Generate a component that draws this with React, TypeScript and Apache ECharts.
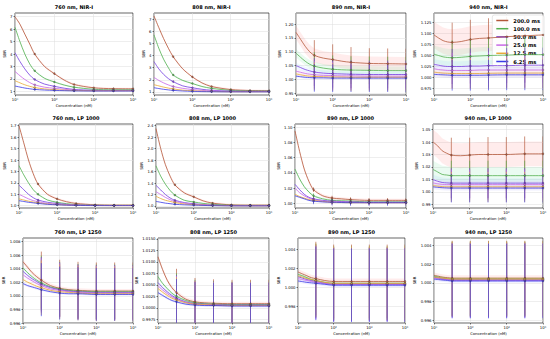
import React, { useEffect, useRef } from 'react';
import * as echarts from 'echarts';

const exposures = ['200.0 ms', '100.0 ms', '50.0 ms', '25.0 ms', '12.5 ms', '6.25 ms'];
const titles = [
  '760 nm, NIR-I', '808 nm, NIR-I', '890 nm, NIR-I', '940 nm, NIR-I',
  '760 nm, LP 1000', '808 nm, LP 1000', '890 nm, LP 1000', '940 nm, LP 1000',
  '760 nm, LP 1250', '808 nm, LP 1250', '890 nm, LP 1250', '940 nm, LP 1250',
];
// concentration (nM) where the fitted curves are sampled
const curveX = [1, 1.78, 3.16, 5.62, 10, 31.6, 100, 316, 1000, 10000, 100000, 1000000];
// concentration (nM) of measured points
const pointX = [10, 100, 1000, 10000, 100000, 1000000];
const pointIdx = [4, 6, 8, 9, 10, 11];
const xTicks = [1, 100, 10000, 1000000];

// fitted curves, one list per exposure (200, 100, 50, 25, 12.5, 6.25 ms)
const p1 = [
  [7.0, 6.4, 5.6, 4.8, 4.0, 3.0, 2.42, 1.9, 1.55, 1.28, 1.21, 1.2],
  [6.15, 5.0, 4.0, 3.2, 2.65, 2.05, 1.75, 1.5, 1.33, 1.16, 1.12, 1.12],
  [4.1, 3.4, 2.8, 2.3, 1.95, 1.58, 1.4, 1.25, 1.15, 1.08, 1.07, 1.07],
  [2.6, 2.25, 1.95, 1.7, 1.52, 1.33, 1.24, 1.16, 1.1, 1.05, 1.05, 1.05],
  [1.85, 1.68, 1.52, 1.4, 1.3, 1.19, 1.13, 1.09, 1.06, 1.04, 1.04, 1.04],
  [1.42, 1.34, 1.26, 1.2, 1.15, 1.1, 1.07, 1.05, 1.03, 1.02, 1.02, 1.02],
];
const p2 = [
  [7.25, 6.3, 5.4, 4.6, 3.9, 2.9, 2.24, 1.75, 1.45, 1.2, 1.12, 1.1],
  [5.7, 4.6, 3.7, 3.0, 2.4, 1.95, 1.7, 1.45, 1.3, 1.13, 1.08, 1.07],
  [3.5, 2.9, 2.45, 2.1, 1.85, 1.5, 1.35, 1.22, 1.14, 1.07, 1.05, 1.05],
  [2.2, 1.95, 1.75, 1.58, 1.45, 1.3, 1.2, 1.13, 1.08, 1.04, 1.03, 1.03],
  [1.6, 1.5, 1.4, 1.32, 1.25, 1.15, 1.1, 1.06, 1.04, 1.02, 1.02, 1.02],
  [1.35, 1.28, 1.22, 1.17, 1.13, 1.08, 1.05, 1.03, 1.02, 1.01, 1.01, 1.01],
];
const p3 = [
  [1.17, 1.145, 1.12, 1.1, 1.087, 1.077, 1.072, 1.066, 1.062, 1.058, 1.057, 1.056],
  [1.095, 1.08, 1.066, 1.055, 1.048, 1.041, 1.037, 1.035, 1.034, 1.033, 1.032, 1.032],
  [1.05, 1.043, 1.036, 1.031, 1.027, 1.023, 1.021, 1.02, 1.019, 1.018, 1.018, 1.018],
  [1.03, 1.026, 1.022, 1.019, 1.017, 1.015, 1.014, 1.013, 1.013, 1.012, 1.012, 1.012],
  [1.02, 1.017, 1.014, 1.012, 1.011, 1.01, 1.009, 1.009, 1.008, 1.008, 1.008, 1.008],
  [1.012, 1.01, 1.008, 1.007, 1.006, 1.006, 1.005, 1.005, 1.005, 1.005, 1.005, 1.005],
];
const p4 = [
  [1.097, 1.09, 1.084, 1.081, 1.08, 1.082, 1.0865, 1.089, 1.09, 1.093, 1.095, 1.097],
  [1.053, 1.05, 1.047, 1.0455, 1.045, 1.046, 1.048, 1.049, 1.05, 1.051, 1.052, 1.052],
  [1.03, 1.028, 1.026, 1.025, 1.025, 1.025, 1.026, 1.026, 1.027, 1.027, 1.028, 1.028],
  [1.02, 1.018, 1.017, 1.016, 1.016, 1.016, 1.016, 1.017, 1.017, 1.017, 1.017, 1.017],
  [1.012, 1.011, 1.01, 1.0095, 1.009, 1.009, 1.009, 1.009, 1.0095, 1.01, 1.01, 1.01],
  [1.007, 1.0065, 1.006, 1.0055, 1.005, 1.005, 1.005, 1.005, 1.0055, 1.006, 1.006, 1.006],
];
const p5 = [
  [1.7, 1.55, 1.4, 1.28, 1.19, 1.1, 1.06, 1.035, 1.02, 1.008, 1.005, 1.005],
  [1.35, 1.27, 1.2, 1.14, 1.1, 1.05, 1.03, 1.018, 1.01, 1.004, 1.003, 1.003],
  [1.18, 1.14, 1.1, 1.07, 1.05, 1.03, 1.02, 1.012, 1.007, 1.003, 1.002, 1.002],
  [1.1, 1.08, 1.06, 1.045, 1.035, 1.02, 1.013, 1.008, 1.005, 1.002, 1.002, 1.002],
  [1.06, 1.05, 1.04, 1.032, 1.025, 1.015, 1.01, 1.006, 1.004, 1.002, 1.001, 1.001],
  [1.044, 1.037, 1.03, 1.025, 1.02, 1.012, 1.008, 1.005, 1.003, 1.001, 1.001, 1.001],
];
const p6 = [
  [2.35, 2.0, 1.72, 1.52, 1.37, 1.23, 1.16, 1.09, 1.05, 1.02, 1.015, 1.015],
  [1.7, 1.52, 1.38, 1.27, 1.19, 1.1, 1.07, 1.045, 1.03, 1.012, 1.01, 1.01],
  [1.36, 1.28, 1.2, 1.14, 1.1, 1.06, 1.04, 1.025, 1.015, 1.008, 1.007, 1.007],
  [1.25, 1.2, 1.15, 1.11, 1.08, 1.05, 1.03, 1.02, 1.012, 1.006, 1.005, 1.005],
  [1.17, 1.13, 1.1, 1.08, 1.06, 1.035, 1.022, 1.015, 1.01, 1.005, 1.004, 1.004],
  [1.08, 1.065, 1.05, 1.04, 1.03, 1.02, 1.015, 1.01, 1.006, 1.003, 1.003, 1.003],
];
const p7 = [
  [1.095, 1.068, 1.045, 1.029, 1.018, 1.01, 1.007, 1.006, 1.005, 1.004, 1.004, 1.004],
  [1.045, 1.032, 1.022, 1.015, 1.01, 1.006, 1.004, 1.0035, 1.003, 1.002, 1.002, 1.002],
  [1.025, 1.018, 1.012, 1.008, 1.006, 1.004, 1.003, 1.0025, 1.002, 1.0015, 1.0015, 1.0015],
  [1.02, 1.014, 1.01, 1.007, 1.005, 1.003, 1.002, 1.0018, 1.0015, 1.001, 1.001, 1.001],
  [1.012, 1.009, 1.007, 1.005, 1.004, 1.0025, 1.0015, 1.0012, 1.001, 1.001, 1.001, 1.001],
  [1.01, 1.008, 1.006, 1.004, 1.003, 1.002, 1.0015, 1.0012, 1.001, 1.001, 1.001, 1.001],
];
const p8 = [
  [1.04, 1.037, 1.033, 1.031, 1.0295, 1.029, 1.0295, 1.03, 1.03, 1.03, 1.0305, 1.0305],
  [1.018, 1.016, 1.014, 1.0135, 1.013, 1.013, 1.013, 1.013, 1.013, 1.013, 1.013, 1.013],
  [1.0098, 1.0085, 1.0075, 1.0072, 1.007, 1.007, 1.007, 1.007, 1.007, 1.007, 1.007, 1.007],
  [1.0072, 1.0065, 1.006, 1.0058, 1.0058, 1.0058, 1.0058, 1.0058, 1.0058, 1.0058, 1.0058, 1.0058],
  [1.005, 1.0046, 1.0042, 1.004, 1.004, 1.004, 1.004, 1.004, 1.004, 1.004, 1.004, 1.004],
  [1.004, 1.0036, 1.0033, 1.0031, 1.003, 1.003, 1.003, 1.003, 1.003, 1.003, 1.003, 1.003],
];
const p9 = [
  [1.005, 1.0042, 1.0034, 1.0028, 1.0023, 1.0015, 1.0011, 1.0009, 1.0008, 1.0007, 1.0007, 1.0007],
  [1.0041, 1.0034, 1.0028, 1.0023, 1.0019, 1.0013, 1.001, 1.0008, 1.0007, 1.0006, 1.0006, 1.0006],
  [1.0036, 1.003, 1.0025, 1.0021, 1.0017, 1.0012, 1.0009, 1.0007, 1.0006, 1.0005, 1.0005, 1.0005],
  [1.0031, 1.0026, 1.0022, 1.0018, 1.0015, 1.001, 1.0008, 1.0006, 1.0005, 1.0004, 1.0004, 1.0004],
  [1.0024, 1.002, 1.0017, 1.0014, 1.0012, 1.0008, 1.0006, 1.0005, 1.0004, 1.0003, 1.0003, 1.0003],
  [1.0018, 1.0015, 1.0013, 1.0011, 1.0009, 1.0006, 1.0004, 1.0003, 1.0003, 1.0002, 1.0002, 1.0002],
];
const p10 = [
  [1.0111, 1.0083, 1.006, 1.0044, 1.0033, 1.0019, 1.0013, 1.0011, 1.001, 1.0009, 1.0009, 1.0009],
  [1.0068, 1.0053, 1.0042, 1.0032, 1.0025, 1.0016, 1.0011, 1.0009, 1.0008, 1.0007, 1.0007, 1.0007],
  [1.0055, 1.0044, 1.0035, 1.0027, 1.0021, 1.0013, 1.0009, 1.0008, 1.0007, 1.0006, 1.0006, 1.0006],
  [1.0048, 1.0039, 1.0031, 1.0024, 1.0019, 1.0012, 1.0008, 1.0007, 1.0006, 1.0005, 1.0005, 1.0005],
  [1.0042, 1.0034, 1.0027, 1.0021, 1.0017, 1.0011, 1.0008, 1.0007, 1.0006, 1.0005, 1.0005, 1.0005],
  [1.0033, 1.0027, 1.0021, 1.0016, 1.0013, 1.0008, 1.0006, 1.0005, 1.0005, 1.0004, 1.0004, 1.0004],
];
const p11 = [
  [1.0016, 1.0014, 1.0012, 1.001, 1.0009, 1.0007, 1.0006, 1.0006, 1.0006, 1.0006, 1.0006, 1.0006],
  [1.00135, 1.0012, 1.001, 1.0008, 1.0007, 1.0005, 1.0004, 1.0004, 1.0004, 1.0004, 1.0004, 1.0004],
  [1.0011, 1.00095, 1.0008, 1.0007, 1.0006, 1.0004, 1.0003, 1.0003, 1.0003, 1.0003, 1.0003, 1.0003],
  [1.0009, 1.0008, 1.0007, 1.0006, 1.0005, 1.0004, 1.0003, 1.0003, 1.0003, 1.0003, 1.0003, 1.0003],
  [1.0012, 1.00105, 1.0009, 1.0008, 1.0007, 1.0005, 1.0004, 1.0004, 1.0004, 1.0004, 1.0004, 1.0004],
  [1.00065, 1.00058, 1.0005, 1.00045, 1.0004, 1.0003, 1.0002, 1.0002, 1.0002, 1.0002, 1.0002, 1.0002],
];
const p12 = [
  [1.0008, 1.0007, 1.0006, 1.00055, 1.0005, 1.0005, 1.0005, 1.0005, 1.0005, 1.0005, 1.0005, 1.0005],
  [1.0007, 1.0006, 1.0005, 1.00045, 1.0004, 1.0004, 1.0004, 1.0004, 1.0004, 1.0004, 1.0004, 1.0004],
  [1.0006, 1.0005, 1.0004, 1.00035, 1.0003, 1.0003, 1.0003, 1.0003, 1.0003, 1.0003, 1.0003, 1.0003],
  [1.0005, 1.00045, 1.0004, 1.00035, 1.0003, 1.0003, 1.0003, 1.0003, 1.0003, 1.0003, 1.0003, 1.0003],
  [1.0006, 1.00055, 1.0005, 1.00045, 1.0004, 1.0004, 1.0004, 1.0004, 1.0004, 1.0004, 1.0004, 1.0004],
  [1.0004, 1.00035, 1.0003, 1.00025, 1.0002, 1.0002, 1.0002, 1.0002, 1.0002, 1.0002, 1.0002, 1.0002],
];
const curves = [p1, p2, p3, p4, p5, p6, p7, p8, p9, p10, p11, p12];

// error-bar half widths per exposure
const e1 = [0.03, 0.03, 0.03, 0.03, 0.03, 0.03];
const e2 = [0.03, 0.03, 0.03, 0.03, 0.03, 0.03];
const e3 = [0.055, 0.05, 0.05, 0.05, 0.05, 0.05];
const e4 = [0.045, 0.04, 0.04, 0.04, 0.035, 0.035];
const e5 = [0.004, 0.003, 0.003, 0.003, 0.003, 0.003];
const e6 = [0.01, 0.008, 0.008, 0.008, 0.008, 0.008];
const e7 = [0.003, 0.003, 0.003, 0.003, 0.003, 0.004];
const e8 = [0.014, 0.012, 0.012, 0.012, 0.012, 0.0115];
const e9 = [0.0042, 0.004, 0.004, 0.004, 0.004, 0.0039];
const e10 = [0.0052, 0.005, 0.005, 0.005, 0.005, 0.005];
const e11 = [0.0039, 0.0039, 0.0039, 0.0039, 0.0039, 0.0039];
const e12 = [0.004, 0.004, 0.004, 0.004, 0.004, 0.004];
const errs = [e1, e2, e3, e4, e5, e6, e7, e8, e9, e10, e11, e12];

// half widths of the shaded fit bands per exposure
const b1 = [0.08, 0.06, 0.04, 0.03, 0.02, 0.01];
const b2 = [0.08, 0.06, 0.04, 0.03, 0.02, 0.01];
const b3 = [0.025, 0.015, 0.01, 0.008, 0.006, 0.005];
const b4 = [0.03, 0.02, 0.012, 0.01, 0.008, 0.006];
const b5 = [0.01, 0.006, 0.004, 0.003, 0.002, 0.002];
const b6 = [0.02, 0.012, 0.008, 0.006, 0.004, 0.003];
const b7 = [0.002, 0.0015, 0.001, 0.001, 0.001, 0.001];
const b8 = [0.01, 0.007, 0.004, 0.003, 0.002, 0.002];
const b9 = [0.0003, 0.0002, 0.0002, 0.0002, 0.0002, 0.0002];
const b10 = [0.0004, 0.0003, 0.0003, 0.0003, 0.0003, 0.0003];
const b11 = [0.0003, 0.0002, 0.0002, 0.0002, 0.0002, 0.0002];
const b12 = [0.0003, 0.0002, 0.0002, 0.0002, 0.0002, 0.0002];
const bands = [b1, b2, b3, b4, b5, b6, b7, b8, b9, b10, b11, b12];

// y tick labels
const yTicks = [
  [1, 2, 3, 4, 5, 6, 7],
  [1, 2, 3, 4, 5, 6, 7],
  [0.95, 1.0, 1.05, 1.1, 1.15, 1.2],
  [0.975, 1.0, 1.025, 1.05, 1.075, 1.1, 1.125],
  [1.0, 1.1, 1.2, 1.3, 1.4, 1.5, 1.6, 1.7],
  [1.0, 1.2, 1.4, 1.6, 1.8, 2.0, 2.2, 2.4],
  [1.0, 1.02, 1.04, 1.06, 1.08, 1.1],
  [0.99, 1.0, 1.01, 1.02, 1.03, 1.04, 1.05],
  [0.996, 0.998, 1.0, 1.002, 1.004, 1.006, 1.008],
  [0.9975, 1.0, 1.0025, 1.005, 1.0075, 1.01, 1.0125, 1.015],
  [0.998, 1.0, 1.002, 1.004],
  [0.996, 0.998, 1.0, 1.002, 1.004],
];
const yDecimals = [0, 0, 2, 3, 1, 1, 2, 2, 3, 4, 3, 3];
const yRange = [
  [0.7, 7.3], [0.75, 7.5], [0.944, 1.24], [0.96, 1.147],
  [0.98, 1.715], [0.965, 2.43], [0.994, 1.104], [0.987, 1.0545],
  [0.996, 1.0085], [0.9967, 1.0152], [0.9962, 1.0052], [0.9957, 1.0048],
];

// layout: left, top, width, height of each plot box
const boxes = [
  [15, 13, 118, 82], [154, 13, 115, 82], [296, 13, 110, 82], [434, 13, 109, 82],
  [19, 124, 114, 84], [156, 124, 113, 84], [295, 124, 111, 84], [433, 124, 110, 84],
  [23, 238, 110, 85], [158, 238, 111, 85], [298, 238, 107, 85], [434, 238, 109, 85],
];
const colors = ['#b4583a', '#55b050', '#7a3fe0', '#c86ae6', '#e8a838', '#3b3be6'];
const bandColors = ['#ff7070', '#60e090', '#80c0ff', '#e090ff', '#ffd080', '#8080ff'];
const FONT = 'DejaVu Sans';
const sup: Record<string, string> = { '0': '⁰', '1': '¹', '2': '²', '3': '³', '4': '⁴', '5': '⁵', '6': '⁶' };

export default function App() {
  const ref = useRef<HTMLDivElement>(null);
  useEffect(() => {
    if (!ref.current) return;
    const chart = echarts.init(ref.current, null, { renderer: 'svg' });
    const grid: any[] = [];
    const xAxis: any[] = [];
    const yAxis: any[] = [];
    const series: any[] = [];
    const title: any[] = [];
    boxes.forEach((b, i) => {
      grid.push({ left: b[0], top: b[1], width: b[2], height: b[3], show: true, borderColor: '#000', borderWidth: 0.6, backgroundColor: '#fff' });
      title.push({ text: titles[i], left: b[0] + b[2] / 2, top: b[1] - 9, textAlign: 'center', padding: 0,
        textStyle: { fontSize: 5, fontWeight: 'bold', fontFamily: FONT, color: '#000' } });
      xAxis.push({
        type: 'log', gridIndex: i, min: 1, max: 1000000, logBase: 10,
        name: 'Concentration (nM)', nameLocation: 'middle', nameGap: 8,
        nameTextStyle: { fontSize: 3.8, fontFamily: FONT, color: '#000' },
        axisLine: { show: false }, axisTick: { length: 1.5, lineStyle: { color: '#000', width: 0.5 }, customValues: xTicks },
        axisLabel: { fontSize: 3.8, fontFamily: FONT, color: '#000', margin: 2.5, customValues: xTicks,
          formatter: (v: number) => '10' + sup[String(Math.round(Math.log10(v)))] },
        splitLine: { show: true, lineStyle: { color: '#dcdcdc', width: 0.5 } },
        minorTick: { show: false },
      });
      const dec = yDecimals[i];
      const labW = Math.max(...yTicks[i].map((t) => t.toFixed(dec).length)) * 2.3;
      yAxis.push({
        type: 'value', gridIndex: i, min: yRange[i][0], max: yRange[i][1],
        name: 'SBR', nameLocation: 'middle', nameRotate: 90, nameGap: labW + 5,
        nameTextStyle: { fontSize: 3.8, fontFamily: FONT, color: '#000' },
        axisLine: { show: false }, axisTick: { show: true, length: 1.5, lineStyle: { color: '#000', width: 0.5 }, customValues: yTicks[i] },
        axisLabel: { fontSize: 3.8, fontFamily: FONT, color: '#000', margin: 2.5, customValues: yTicks[i],
          formatter: (v: number) => v.toFixed(dec) },
        splitLine: { show: true, lineStyle: { color: '#dcdcdc', width: 0.5 } },
      });
      const cv = curves[i];
      const ev = errs[i];
      const bv = bands[i];
      for (let s = 0; s < 6; s++) {
        const col = colors[s];
        const lo = curveX.map((x, k) => [x, cv[s][k] - bv[s]]);
        const hi = curveX.map((x, k) => [x, cv[s][k] + bv[s]]);
        series.push({
          type: 'custom', xAxisIndex: i, yAxisIndex: i, clip: true, z: 1, silent: true,
          data: [[curveX[0], cv[s][0]]],
          renderItem: (params: any, api: any) => {
            const pts = hi.map((p) => api.coord(p)).concat(lo.slice().reverse().map((p) => api.coord(p)));
            return { type: 'polygon', shape: { points: pts }, style: { fill: bandColors[s], opacity: 0.13 } };
          },
        });
        series.push({
          type: 'custom', xAxisIndex: i, yAxisIndex: i, clip: true, z: 3 + s,
          data: pointIdx.map((k, j) => [pointX[j], cv[s][k], ev[s]]),
          renderItem: (params: any, api: any) => {
            const x = api.value(0), y = api.value(1), e = api.value(2);
            const top = api.coord([x, y + e]);
            const bot = api.coord([x, y - e]);
            return { type: 'line', shape: { x1: top[0], y1: top[1], x2: bot[0], y2: bot[1] },
              style: { stroke: col, lineWidth: 0.9, opacity: 0.75 } };
          },
          silent: true,
        });
        series.push({
          type: 'line', name: exposures[s], xAxisIndex: i, yAxisIndex: i, z: 10 + s,
          data: curveX.map((x, k) => [x, cv[s][k]]), smooth: 0.3,
          showSymbol: false, lineStyle: { color: col, width: 0.8 }, itemStyle: { color: col }, silent: true,
        });
        series.push({
          type: 'scatter', xAxisIndex: i, yAxisIndex: i, z: 20 + s,
          data: pointIdx.map((k, j) => [pointX[j], cv[s][k]]),
          symbolSize: 1.8, itemStyle: { color: col, borderColor: '#222', borderWidth: 0.3 }, silent: true,
        });
      }
    });
    chart.setOption({
      animation: false,
      backgroundColor: '#fff',
      title,
      grid, xAxis, yAxis, series,
      legend: {
        data: exposures.map((n) => ({ name: n, icon: 'rect' })),
        orient: 'vertical', right: 6, top: 15, itemWidth: 12, itemHeight: 1.5, itemGap: 3.2,
        selectedMode: false,
        textStyle: { fontSize: 5.2, fontWeight: 'bold', fontFamily: FONT, color: '#000' },
        backgroundColor: 'rgba(255,255,255,0.9)', borderColor: '#ccc', borderWidth: 0.5, borderRadius: 2,
        padding: [3, 4, 3, 4],
      },
    });
    return () => chart.dispose();
  }, []);
  return <div ref={ref} style={{ position: 'absolute', left: 0, top: 0, width: 550, height: 339 }} />;
}
